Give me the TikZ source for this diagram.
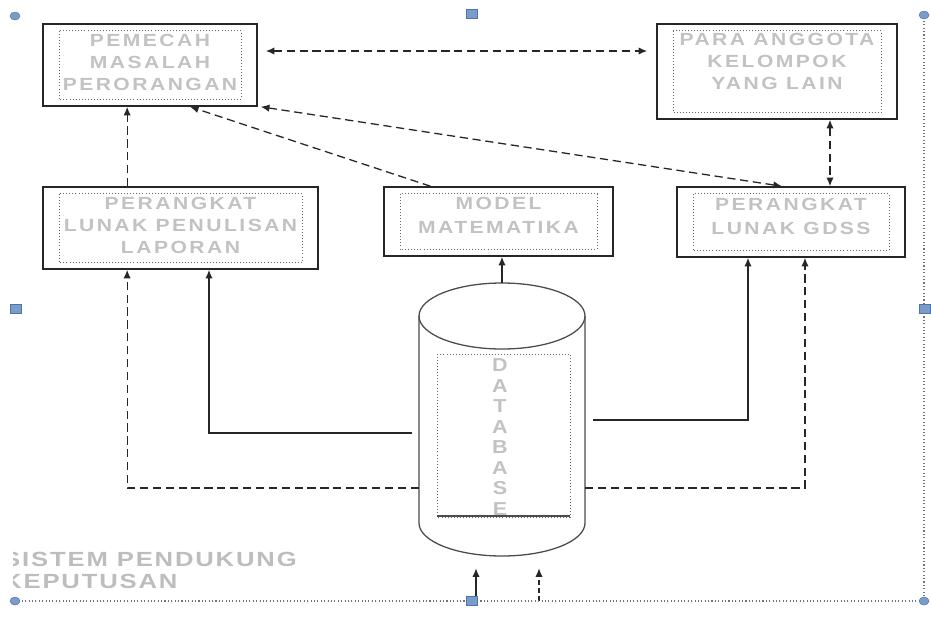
\documentclass[tikz,border=0pt]{standalone}
\usepackage{fontspec}
\newfontfamily\boxfont[FakeStretch=1.2, LetterSpace=14]{Liberation Sans Bold}
\newfontfamily\capfont[FakeStretch=1.25, LetterSpace=9]{Liberation Sans Bold}
\newfontfamily\dbfont[FakeStretch=1.15]{Liberation Sans Bold}
\usepackage{tikz}
\usetikzlibrary{arrows.meta}
\usetikzlibrary{positioning}
\definecolor{handle}{RGB}{123,155,200}
\definecolor{handleline}{RGB}{80,115,170}
\tikzstyle{base}=[x=0.3mm, y=0.3mm, >={Latex[length=2.6mm,width=2.2mm]}]
\tikzstyle{panel}=[draw=black!85, line width=1.3pt, align=center, text=black!24,
    font=\boxfont\fontsize{15}{19}\selectfont, inner sep=0pt,
    path picture={\draw[black!60, line width=0.6pt, dotted]
        ([shift={(4.8mm,-2mm)}]path picture bounding box.north west) rectangle
        ([shift={(-4.8mm,2mm)}]path picture bounding box.south east);}]
\tikzstyle{link}=[black!85, line width=1.1pt]
\tikzstyle{dashlink}=[link, dash pattern=on 7pt off 4pt]

\begin{document}
\begin{tikzpicture}[base]
    \useasboundingbox (0,0) rectangle (931,-639);
    % boxes
    \node [panel, minimum width=64.2mm, minimum height=24.6mm] (pemecah) at (150,-65) {PEMECAH\\MASALAH\\PERORANGAN\\[-5mm]};
    \node [panel, minimum width=72mm, minimum height=28.5mm] (anggota) at (777,-71.5) {PARA ANGGOTA\\KELOMPOK\\YANG LAIN\\[-0.5mm]};
    \node [panel, minimum width=82.5mm, minimum height=24.6mm] (laporan) at (180.5,-228) {PERANGKAT\\LUNAK PENULISAN\\LAPORAN\\[-5mm]};
    \node [panel, minimum width=68.7mm, minimum height=20.7mm] (model) at (498.5,-221.5) {MODEL\\[1.5pt]MATEMATIKA\\[-3mm]};
    \node [panel, minimum width=68.4mm, minimum height=21mm] (gdss) at (791,-222) {PERANGKAT\\[1.5pt]LUNAK GDSS\\[-3mm]};
    % database cylinder
    \node [minimum width=49.8mm, minimum height=81.9mm, inner sep=0pt] (db) at (502,-419.5) {};
    \draw [black!70, line width=1.1pt] (419,-316) -- (419,-523) arc (180:360:83 and 33) -- (585,-316);
    \draw [black!70, line width=1.1pt] (502,-316) ellipse (83 and 33);
    \draw [black!60, line width=0.6pt, dotted] (437,-354) rectangle (570,-517);
    \begin{scope}
        \clip (437,-354) rectangle (570,-514);
        \node [text=black!24, font=\dbfont\fontsize{16}{17.5}\selectfont, align=center] (dbtext) at (500,-437) {D\\A\\T\\A\\B\\A\\S\\E};
    \end{scope}
    \draw [black!70, line width=1.2pt] (437,-516) -- (570,-516);
    % connectors
    \draw [dashlink, <->, shorten <=2.4mm, shorten >=2.7mm] ([yshift=4.2mm]pemecah.east) -- ([yshift=4.2mm]pemecah.east -| anggota.west);
    \draw [dashlink, ->] ([xshift=-16mm]laporan.north) -- ([xshift=-16mm]laporan.north |- pemecah.south);
    \draw [dashlink, ->] ([xshift=-20.4mm]model.north) -- ([xshift=12mm]pemecah.south);
    \draw [dashlink, <->] ([xshift=0.9mm]pemecah.south east) -- ([xshift=-2.7mm]gdss.north);
    \draw [dashlink, <->] ([xshift=15.9mm]anggota.south) -- ([xshift=15.9mm]anggota.south |- gdss.north);
    \draw [link, ->] (db.north) -- (db.north |- model.south);
    \draw [link, ->, shorten <=2.1mm] ([yshift=-4.05mm]db.west) -| ([xshift=8.55mm]laporan.south);
    \draw [dashlink, ->] ([yshift=-20.55mm]db.west) -| ([xshift=-16mm]laporan.south);
    \draw [link, ->, shorten <=2.4mm] ([yshift=-0.15mm]db.east) -| ([xshift=-12.9mm]gdss.south);
    \draw [dashlink, ->] ([yshift=-20.55mm]db.east) -| ([xshift=4.2mm]gdss.south);
    \coordinate (inA) at (476,-601);
    \coordinate (inB) at (539,-601);
    \draw [link, ->, shorten >=3.6mm] (inA) -- (inA |- db.south);
    \draw [dashlink, dash pattern=on 4pt off 3pt, ->, shorten >=3.6mm] (inB) -- (inB |- db.south);
    % caption
    \begin{scope}
        \clip (13,-530) rectangle (400,-600);
        \node [anchor=north west, align=left, text=black!26, inner sep=0pt,
            font=\capfont\fontsize{17.5}{18.5}\selectfont] (sistem) at (3,-552) {SISTEM PENDUKUNG\\KEPUTUSAN};
    \end{scope}
    % frame and handles
    \draw [black!55, dotted, line width=0.9pt] (15,-601) -- (924,-601) -- (924,-15);
    \foreach \p in {(15,-16), (15,-601), (924,-601), (924,-15)}
        \draw [handleline, fill=handle, line width=0.4pt] \p ellipse (5 and 4);
    \foreach \p in {(472,-14), (16,-309), (925,-309), (472,-601)}
        \draw [handleline, fill=handle, line width=0.4pt] \p ++(-5.5,-4.5) rectangle ++(11,9);
\end{tikzpicture}
\end{document}
